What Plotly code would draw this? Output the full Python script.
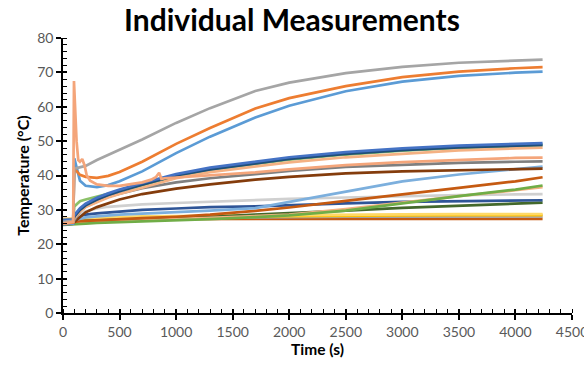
import plotly.graph_objects as go

# Common time grid (s)
time_s = [0, 90, 100, 150, 200, 300, 400, 500, 700, 1000, 1300, 1700, 2000, 2500, 3000, 3500, 4000, 4240]

# Series values (°C)
gray_top      = [26.5, 26.8, 42.0, 42.3, 42.8, 44.5, 46.0, 47.3, 50.5, 55.3, 59.6, 64.6, 67.0, 69.8, 71.6, 72.8, 73.5, 73.7]
orange_main   = [26.0, 26.3, 42.0, 40.2, 39.6, 39.3, 39.9, 41.0, 44.0, 49.2, 53.8, 59.5, 62.5, 66.0, 68.6, 70.2, 71.2, 71.5]
blue_main     = [25.8, 26.0, 45.0, 38.5, 37.0, 36.6, 37.2, 38.3, 41.2, 46.5, 51.3, 56.9, 60.3, 64.5, 67.3, 69.0, 69.9, 70.2]
green_light   = [26.5, 26.8, 31.0, 32.5, 33.0, 33.8, 34.6, 35.4, 37.2, 39.8, 41.7, 43.4, 44.6, 46.1, 47.2, 48.0, 48.6, 48.8]
blue_royal    = [27.0, 27.2, 28.5, 30.5, 31.8, 33.5, 34.8, 35.9, 37.8, 40.4, 42.3, 44.1, 45.3, 46.8, 47.9, 48.7, 49.2, 49.4]
blue_dark     = [26.8, 27.0, 28.0, 30.0, 31.3, 33.0, 34.3, 35.4, 37.3, 40.0, 41.8, 43.6, 44.8, 46.3, 47.4, 48.2, 48.7, 48.9]
orange_light  = [26.5, 26.7, 27.5, 29.5, 30.8, 32.3, 33.6, 34.6, 36.5, 39.2, 41.0, 42.6, 43.8, 45.3, 46.4, 47.3, 47.9, 48.1]
gray_dark     = [26.0, 26.2, 27.0, 29.5, 31.0, 32.5, 33.8, 34.7, 36.3, 38.0, 39.2, 40.4, 41.3, 42.5, 43.2, 43.7, 44.0, 44.1]
brown         = [25.8, 26.0, 26.5, 28.0, 29.3, 30.8, 32.0, 33.0, 34.6, 36.2, 37.4, 38.8, 39.6, 40.6, 41.2, 41.6, 41.9, 42.0]
blue_light    = [26.3, 26.5, 27.0, 27.5, 27.8, 28.1, 28.4, 28.6, 28.9, 29.3, 29.8, 30.5, 32.3, 35.5, 38.3, 40.3, 41.9, 42.6]
orange_dark   = [26.2, 26.3, 26.5, 26.7, 26.8, 27.0, 27.1, 27.3, 27.6, 28.0, 28.6, 29.7, 30.7, 32.6, 34.6, 36.4, 38.3, 39.5]
green_main    = [25.6, 25.7, 25.8, 25.9, 26.0, 26.2, 26.3, 26.4, 26.6, 26.9, 27.3, 27.9, 28.4, 29.8, 32.0, 34.0, 35.9, 37.1]
salmon        = [25.8, 25.9, 26.0, 26.1, 26.2, 26.4, 26.5, 26.7, 27.0, 27.3, 27.7, 28.2, 28.6, 30.2, 32.2, 34.0, 35.7, 36.6]
gray_light    = [26.5, 26.7, 27.5, 28.8, 29.6, 30.4, 30.9, 31.2, 31.6, 32.0, 32.4, 32.9, 33.2, 33.6, 34.0, 34.3, 34.5, 34.6]
blue_steel    = [27.0, 27.2, 27.8, 28.3, 28.6, 29.0, 29.3, 29.6, 30.0, 30.4, 30.8, 31.0, 31.4, 31.9, 32.3, 32.5, 32.7, 32.8]
green_dark    = [26.5, 26.5, 26.6, 26.7, 26.8, 26.9, 27.0, 27.1, 27.3, 27.6, 28.0, 28.6, 29.0, 29.8, 30.6, 31.2, 31.8, 32.1]
gold_light    = [27.3, 27.4, 27.5, 27.6, 27.7, 27.8, 27.9, 28.0, 28.1, 28.2, 28.3, 28.4, 28.5, 28.6, 28.7, 28.75, 28.8, 28.8]
gold          = [27.0, 27.1, 27.2, 27.3, 27.4, 27.5, 27.6, 27.7, 27.8, 27.9, 28.0, 28.1, 28.2, 28.3, 28.4, 28.45, 28.5, 28.5]
gray_flat     = [26.8, 26.9, 27.0, 27.1, 27.2, 27.3, 27.4, 27.5, 27.6, 27.7, 27.8, 27.9, 27.95, 28.0, 28.05, 28.1, 28.1, 28.1]
brown_flat    = [27.3, 27.3, 27.3, 27.3, 27.3, 27.3, 27.3, 27.3, 27.3, 27.35, 27.35, 27.35, 27.4, 27.4, 27.4, 27.4, 27.4, 27.4]

# Spiky series with its own time grid
spike_time = [0, 90, 97, 105, 120, 135, 150, 170, 190, 210, 240, 300, 400, 500, 600, 700, 780, 820, 850, 870, 900, 1000, 1300, 1700, 2000, 2500, 3000, 3500, 4000, 4240]
spike_vals = [26.0, 26.5, 67.5, 60.0, 50.0, 44.5, 44.0, 44.8, 43.0, 40.0, 38.5, 37.4, 37.0, 37.0, 37.5, 38.0, 38.8, 39.5, 40.8, 39.0, 39.2, 39.4, 39.9, 40.9, 41.8, 43.0, 43.9, 44.6, 45.1, 45.2]

x_ticks = [0, 500, 1000, 1500, 2000, 2500, 3000, 3500, 4000, 4500]
y_ticks = [0, 10, 20, 30, 40, 50, 60, 70, 80]

series = [
    (brown_flat, "#C55A11"), (gray_flat, "#A5A5A5"), (gold, "#FFC000"), (gold_light, "#FFD966"),
    (green_dark, "#43682B"), (blue_steel, "#2F5597"), (gray_light, "#D0D0D0"),
    (salmon, "#F4B183"), (green_main, "#70AD47"), (orange_dark, "#C55A11"),
    (blue_light, "#7CAFDD"), (brown, "#843C0C"), (gray_dark, "#7F7F7F"),
    (green_light, "#8CC168"), (orange_light, "#F4B183"), (blue_dark, "#1F4E79"), (blue_royal, "#4472C4"),
    (blue_main, "#5B9BD5"), (orange_main, "#ED7D31"), (gray_top, "#A5A5A5"),
]

fig = go.Figure()
for vals, col in series:
    fig.add_trace(go.Scatter(x=time_s, y=vals, mode="lines",
                             line=dict(color=col, width=2.7), showlegend=False))
fig.add_trace(go.Scatter(x=spike_time, y=spike_vals, mode="lines",
                         line=dict(color="#F4A57A", width=2.7), showlegend=False))
# dummy trace for overlay axes (inside half of crossing major ticks)
fig.add_trace(go.Scatter(x=[None], y=[None], xaxis="x2", yaxis="y2", showlegend=False))

tickfont = dict(family="Lato", size=14, color="#595959")
fig.update_layout(
    width=584, height=367,
    margin=dict(l=63, r=12, t=38, b=54, autoexpand=False),
    paper_bgcolor="white", plot_bgcolor="white",
    title=dict(text="<b>Individual Measurements</b>", x=0.5, xanchor="center",
               yref="container", y=0.945, yanchor="middle",
               font=dict(family="Lato", size=30, color="black")),
    xaxis=dict(range=[0, 4500], tickvals=x_ticks, showgrid=False, zeroline=False, automargin=False,
               showline=True, linecolor="black", linewidth=1.5,
               ticks="outside", ticklen=5, tickcolor="black", tickwidth=1.5,
               minor=dict(dtick=100, ticks="inside", ticklen=4, tickcolor="black", tickwidth=1),
               tickfont=tickfont, ticklabeloverflow="allow",
               title=dict(text="<b>Time (s)</b>", font=dict(family="Lato", size=15.5, color="black"), standoff=6)),
    yaxis=dict(range=[0, 80], tickvals=y_ticks, showgrid=False, zeroline=False, automargin=False,
               showline=True, linecolor="black", linewidth=1.5,
               ticks="outside", ticklen=5, tickcolor="black", tickwidth=1.5,
               minor=dict(dtick=2, ticks="inside", ticklen=4, tickcolor="black", tickwidth=1),
               tickfont=tickfont,
               title=dict(text="<b>Temperature (°C)</b>", font=dict(family="Lato", size=16, color="black"), standoff=4)),
    xaxis2=dict(overlaying="x", anchor="y2", range=[0, 4500], tickvals=x_ticks, showgrid=False,
                zeroline=False, showline=False, showticklabels=False, ticks="inside", ticklen=4,
                tickcolor="black", tickwidth=1.5, automargin=False),
    yaxis2=dict(overlaying="y", anchor="x2", range=[0, 80], tickvals=y_ticks, showgrid=False,
                zeroline=False, showline=False, showticklabels=False, ticks="inside", ticklen=4,
                tickcolor="black", tickwidth=1.5, automargin=False),
)
fig.write_html("out.html")
